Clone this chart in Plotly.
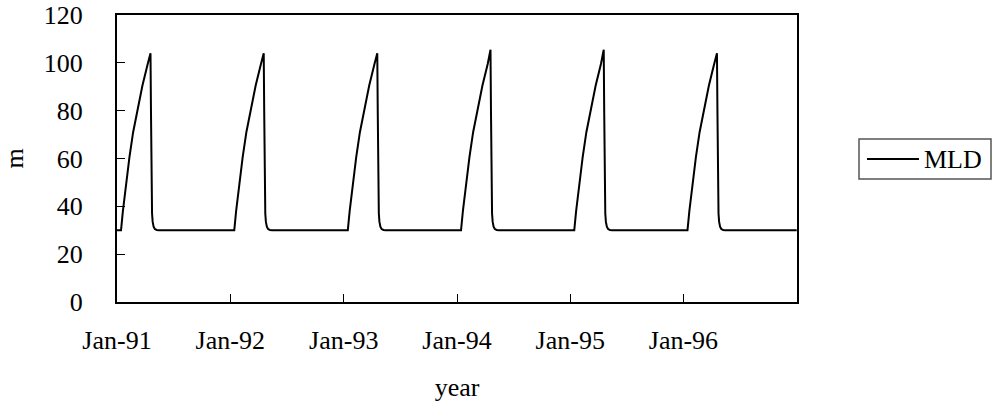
import pandas as pd
import plotly.graph_objects as go

# ---- data ----
years = [1991, 1992, 1993, 1994, 1995, 1996]
peak_mld = [104.0, 104.0, 104.0, 105.5, 105.5, 104.0]   # m, spring maximum each year

# seasonal shape: day of year -> mixed layer depth (m); None marks the yearly peak
cycle_day = [0, 13, 19, 26, 33, 40, 52, 65, 82, 99, 104, 108,
             109.5, 111, 112, 113, 115, 118, 122, 128, 135]
cycle_mld = [30, 30, 38, 46, 54, 60.5, 71, 80, 90.5, 99.5, 102.5, None,
             80, 55, 42, 37, 33.5, 31.5, 30.5, 30.1, 30]

end_date = "1996-12-31"
end_mld = 30

tick_dates = ["1991-01-01", "1992-01-01", "1993-01-01", "1994-01-01", "1995-01-01", "1996-01-01"]
tick_labels = ["Jan-91", "Jan-92", "Jan-93", "Jan-94", "Jan-95", "Jan-96"]
y_ticks = [0, 20, 40, 60, 80, 100, 120]
series_name = "MLD"

# ---- build the series ----
xs, ys = [], []
for yr, pk in zip(years, peak_mld):
    start = pd.Timestamp(year=yr, month=1, day=1)
    for d, v in zip(cycle_day, cycle_mld):
        xs.append(start + pd.Timedelta(days=d))
        ys.append(pk if v is None else v)
xs.append(pd.Timestamp(end_date))
ys.append(end_mld)

FONT = "Liberation Serif"
W, H = 992, 402
L, R, T, B = 117, 195, 15, 100
PW, PH = W - L - R, H - T - B


def px(xpix):
    return (xpix - L) / PW


def py(ypix):
    return (H - B - ypix) / PH


fig = go.Figure()
fig.add_trace(go.Scatter(x=xs, y=ys, mode="lines", name=series_name,
                         line=dict(color="black", width=2), showlegend=False))

# legend box drawn like the original (boxed, long line sample)
fig.add_shape(type="rect", xref="paper", yref="paper",
              x0=px(859), x1=px(991), y0=py(179), y1=py(139),
              line=dict(color="#555", width=1.5), fillcolor="white", layer="above")
fig.add_shape(type="line", xref="paper", yref="paper",
              x0=px(867), x1=px(919), y0=py(159), y1=py(159),
              line=dict(color="black", width=2), layer="above")
fig.add_annotation(xref="paper", yref="paper", x=px(922), y=py(159),
                   xanchor="left", yanchor="middle", showarrow=False,
                   text=series_name, font=dict(family=FONT, size=26, color="black"))

fig.update_layout(
    width=W, height=H,
    margin=dict(l=L, r=R, t=T, b=B, autoexpand=False),
    paper_bgcolor="white", plot_bgcolor="white",
    font=dict(family=FONT, size=26, color="black"),
    showlegend=False,
)

fig.update_xaxes(
    type="date", range=["1991-01-01", "1997-01-01"],
    tickvals=tick_dates, ticktext=tick_labels,
    ticks="inside", ticklen=8, tickwidth=1, tickcolor="black",
    showline=True, linecolor="black", linewidth=2, mirror=True,
    showgrid=False, zeroline=False, automargin=False,
    ticklabelstandoff=14, ticklabeloverflow="allow",
    title=dict(text="year", standoff=24, font=dict(family=FONT, size=26)),
)
fig.update_yaxes(
    range=[0, 120], tickvals=y_ticks,
    ticks="inside", ticklen=8, tickwidth=1, tickcolor="black",
    showline=True, linecolor="black", linewidth=2, mirror=True,
    showgrid=False, zeroline=False, automargin=False,
    ticklabelstandoff=27, ticklabeloverflow="allow",
    title=dict(text="m", standoff=33, font=dict(family=FONT, size=26)),
)

fig.write_html("out.html", config={"displayModeBar": False},
               post_script="document.body.style.margin='0';")
